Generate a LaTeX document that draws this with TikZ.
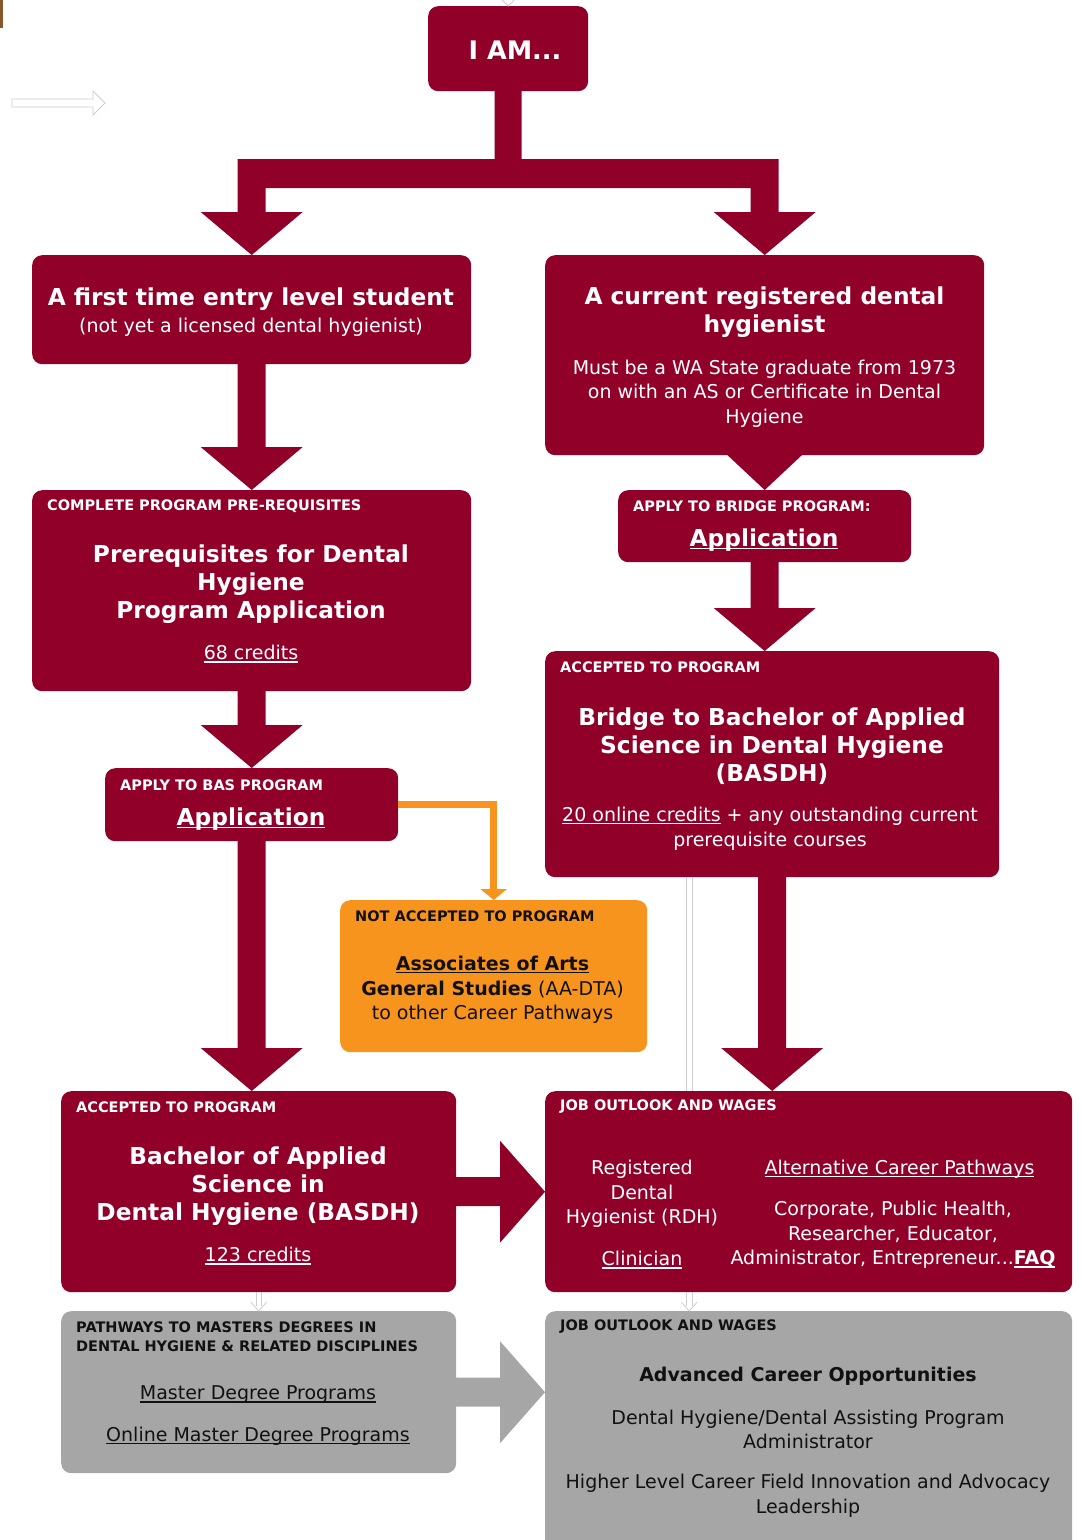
\documentclass[tikz,border=0pt]{standalone}
\usepackage{fontspec}
\setmainfont{DejaVu Sans}
\usetikzlibrary{calc,arrows.meta}

\definecolor{wine}{RGB}{145,0,41}
\definecolor{ash}{RGB}{166,166,166}
\definecolor{amber}{RGB}{247,148,30}
\definecolor{ink}{RGB}{17,17,17}
\definecolor{haze}{RGB}{205,205,205}

\newcommand{\linkul}[1]{\leavevmode\setbox0\hbox{#1}\rlap{\rule[-2.7pt]{\wd0}{1.4pt}}\box0\relax}
\newcommand{\blockdown}[2]{%
  \fill[wine] ($(#1.south)+(-14,-1)$) -- ($(#1.south |- #2.north)+(-14,-43)$)
    -- ($(#1.south |- #2.north)+(-51,-43)$) -- (#1.south |- #2.north)
    -- ($(#1.south |- #2.north)+(51,-43)$) -- ($(#1.south |- #2.north)+(14,-43)$)
    -- ($(#1.south)+(14,-1)$) -- cycle;}
\newcommand{\blockright}[3]{%
  \fill[#1] ($(#2.east)+(-1,-14.5)$) -- ($(#2.east -| #3.west)+(-45,-14.5)$)
    -- ($(#2.east -| #3.west)+(-45,-51)$) -- (#2.east -| #3.west)
    -- ($(#2.east -| #3.west)+(-45,51)$) -- ($(#2.east -| #3.west)+(-45,14.5)$)
    -- ($(#2.east)+(-1,14.5)$) -- cycle;}

\begin{document}
\begin{tikzpicture}
    [x=1pt, y=-1pt,
     box/.style={rounded corners=10pt, inner sep=0pt, anchor=north west},
     dark box/.style={box, fill=wine},
     grey box/.style={box, fill=ash},
     amber box/.style={box, fill=amber},
     head/.style={anchor=west, inner sep=0pt, align=left, text=white, yshift=-2pt,
       font=\fontsize{14.5}{19}\selectfont\bfseries},
     title/.style={inner sep=0pt, align=center, text=white, yshift=-2pt,
       font=\fontsize{23.3}{28}\selectfont\bfseries},
     body/.style={inner sep=0pt, align=center, text=white, yshift=-2pt,
       font=\fontsize{19}{24.7}\selectfont},
     faint line/.style={draw=haze, line width=0.8pt}]
    \useasboundingbox (0,0) rectangle (1082,1540);
    \fill[brown!70!black] (0,0) rectangle (3,28);
    \draw[faint line] (12,99) -- (93,99) -- (93,91) -- (105,103) -- (93,115)
      -- (93,107) -- (12,107) -- cycle;

    \node[dark box, minimum width=160, minimum height=85] (iam) at (428,6) {};
    \node[dark box, minimum width=439, minimum height=109] (first) at (32,255) {};
    \node[dark box, minimum width=439, minimum height=200] (cur) at (545,255) {};
    \node[dark box, minimum width=439, minimum height=201] (prereq) at (32,490) {};
    \node[dark box, minimum width=293, minimum height=72] (bapp) at (618,490) {};
    \node[dark box, minimum width=454, minimum height=226] (bridge) at (545,651) {};
    \node[dark box, minimum width=293, minimum height=73] (basapp) at (105,768) {};
    \node[amber box, minimum width=307, minimum height=152] (notacc) at (340,900) {};
    \node[dark box, minimum width=395, minimum height=201] (bas) at (61,1091) {};
    \node[dark box, minimum width=527, minimum height=201] (job) at (545,1091) {};
    \node[grey box, minimum width=395, minimum height=162] (masters) at (61,1311) {};
    \node[grey box, minimum width=527, minimum height=260] (adv) at (545,1311) {};

    \coordinate (fork) at (508,173.5);
    \fill[wine] ($(iam.south)+(-13.5,-1)$) |- ($(first.north |- fork)+(-14,-14.5)$)
      -- ($(first.north)+(-14,-43)$) -- ($(first.north)+(-51,-43)$) -- (first.north)
      -- ($(first.north)+(51,-43)$) -- ($(first.north)+(14,-43)$)
      |- ($(cur.north |- fork)+(-14,14.5)$)
      -- ($(cur.north)+(-14,-43)$) -- ($(cur.north)+(-51,-43)$) -- (cur.north)
      -- ($(cur.north)+(51,-43)$) -- ($(cur.north)+(14,-43)$)
      |- ($(iam.south |- fork)+(13.5,-14.5)$) -- ($(iam.south)+(13.5,-1)$) -- cycle;
    \blockdown{first}{prereq}
    \fill[wine] ($(cur.south)+(-38,-1)$) -- (cur.south |- bapp.north)
      -- ($(cur.south)+(38,-1)$) -- cycle;
    \blockdown{bapp}{bridge}
    \blockdown{prereq}{basapp}
    \blockdown{basapp}{bas}
    \blockdown{bridge}{job}
    \blockright{wine}{bas}{job}
    \blockright{ash}{masters}{adv}
    \draw[amber, line width=6.5pt, -{Triangle[width=26pt,length=11pt]}]
      (basapp.east) -| (notacc.north);

    \draw[faint line] ($(bridge.south)+(-86,0)$) -- ($(job.north)+(-122.5,0)$);
    \draw[faint line] ($(bridge.south)+(-80,0)$) -- ($(job.north)+(-116.5,0)$);
    \draw[faint line] ($(job.south)+(-122.5,0)$) -- ($(adv.north)+(-122.5,-5)$);
    \draw[faint line] ($(job.south)+(-116.5,0)$) -- ($(adv.north)+(-116.5,-5)$);
    \draw[faint line] ($(adv.north)+(-127.5,-9)$) -- ($(adv.north)+(-119.5,0)$)
      -- ($(adv.north)+(-111.5,-9)$);
    \draw[faint line] ($(bas.south)+(-2.5,0)$) -- ($(masters.north)+(-2.5,-5)$);
    \draw[faint line] ($(bas.south)+(2.5,0)$) -- ($(masters.north)+(2.5,-5)$);
    \draw[faint line] ($(masters.north)+(-8,-9)$) -- (masters.north)
      -- ($(masters.north)+(8,-9)$);
    \draw[faint line] ($(iam.north)+(-6,-6)$) -- (iam.north) -- ($(iam.north)+(6,-6)$);

    \node[title, font=\fontsize{25.5}{30}\selectfont\bfseries] (iamlabel) at (515,48) {I AM...};
    \node[title] (firsttitle) at (251,297) {A first time entry level student};
    \node[body] (firstnote) at (251,325) {(not yet a licensed dental hygienist)};
    \node[title] (curtitle) at (764.5,310.5) {A current registered dental\\hygienist};
    \node[body] (curnote) at (764.5,391.5)
      {Must be a WA State graduate from 1973\\on with an AS or Certificate in Dental\\Hygiene};
    \node[head] (prereqhead) at (47,504) {COMPLETE PROGRAM PRE-REQUISITES};
    \node[title] (prereqtitle) at (251,582.5) {Prerequisites for Dental\\Hygiene\\Program Application};
    \node[body] (prereqlink) at (251,652) {\linkul{68 credits}};
    \node[head] (bapphead) at (633,504) {APPLY TO BRIDGE PROGRAM:};
    \node[title] (bapplink) at (764,538) {\linkul{Application}};
    \node[head] (bridgehead) at (560,665) {ACCEPTED TO PROGRAM};
    \node[title] (bridgetitle) at (772,744)
      {Bridge to Bachelor of Applied\\Science in Dental Hygiene\\(BASDH)};
    \node[body] (bridgenote) at (770,826.5)
      {\linkul{20 online credits} + any outstanding current\\prerequisite courses};
    \node[head] (basapphead) at (120,783) {APPLY TO BAS PROGRAM};
    \node[title] (basapplink) at (251,817) {\linkul{Application}};
    \node[head, text=ink] (notacchead) at (355,914) {NOT ACCEPTED TO PROGRAM};
    \node[body, text=ink] (notaccnote) at (492.5,988)
      {\linkul{\textbf{Associates of Arts}}\\\textbf{General Studies} (AA-DTA)\\to other Career Pathways};
    \node[head] (bashead) at (76,1105) {ACCEPTED TO PROGRAM};
    \node[title] (bastitle) at (258,1184) {Bachelor of Applied\\Science in\\Dental Hygiene (BASDH)};
    \node[body] (baslink) at (258,1254) {\linkul{123 credits}};
    \node[head] (jobhead) at (560,1105) {JOB OUTLOOK AND WAGES};
    \node[body] (rdh) at (642,1192) {Registered\\Dental\\Hygienist (RDH)};
    \node[body] (clinician) at (642,1258) {\linkul{Clinician}};
    \node[body] (altlink) at (899.5,1167) {\linkul{Alternative Career Pathways}};
    \node[body] (altnote) at (893,1233)
      {Corporate, Public Health,\\Researcher, Educator,\\Administrator, Entrepreneur...\linkul{\textbf{FAQ}}};
    \node[head, text=ink] (mastershead) at (76,1334.5)
      {PATHWAYS TO MASTERS DEGREES IN\\DENTAL HYGIENE \& RELATED DISCIPLINES};
    \node[body, text=ink] (masterlink) at (258,1393) {\linkul{Master Degree Programs}};
    \node[body, text=ink] (onlinelink) at (258,1434) {\linkul{Online Master Degree Programs}};
    \node[head, text=ink] (advhead) at (560,1325) {JOB OUTLOOK AND WAGES};
    \node[body, text=ink, font=\fontsize{19}{24.7}\selectfont\bfseries] (advtitle) at (808,1374)
      {Advanced Career Opportunities};
    \node[body, text=ink] (advnote) at (808,1427.5) {Dental Hygiene/Dental Assisting Program\\Administrator};
    \node[body, text=ink] (advlead) at (808,1493.5)
      {Higher Level Career Field Innovation and Advocacy\\Leadership};
  \end{tikzpicture}
\end{document}
